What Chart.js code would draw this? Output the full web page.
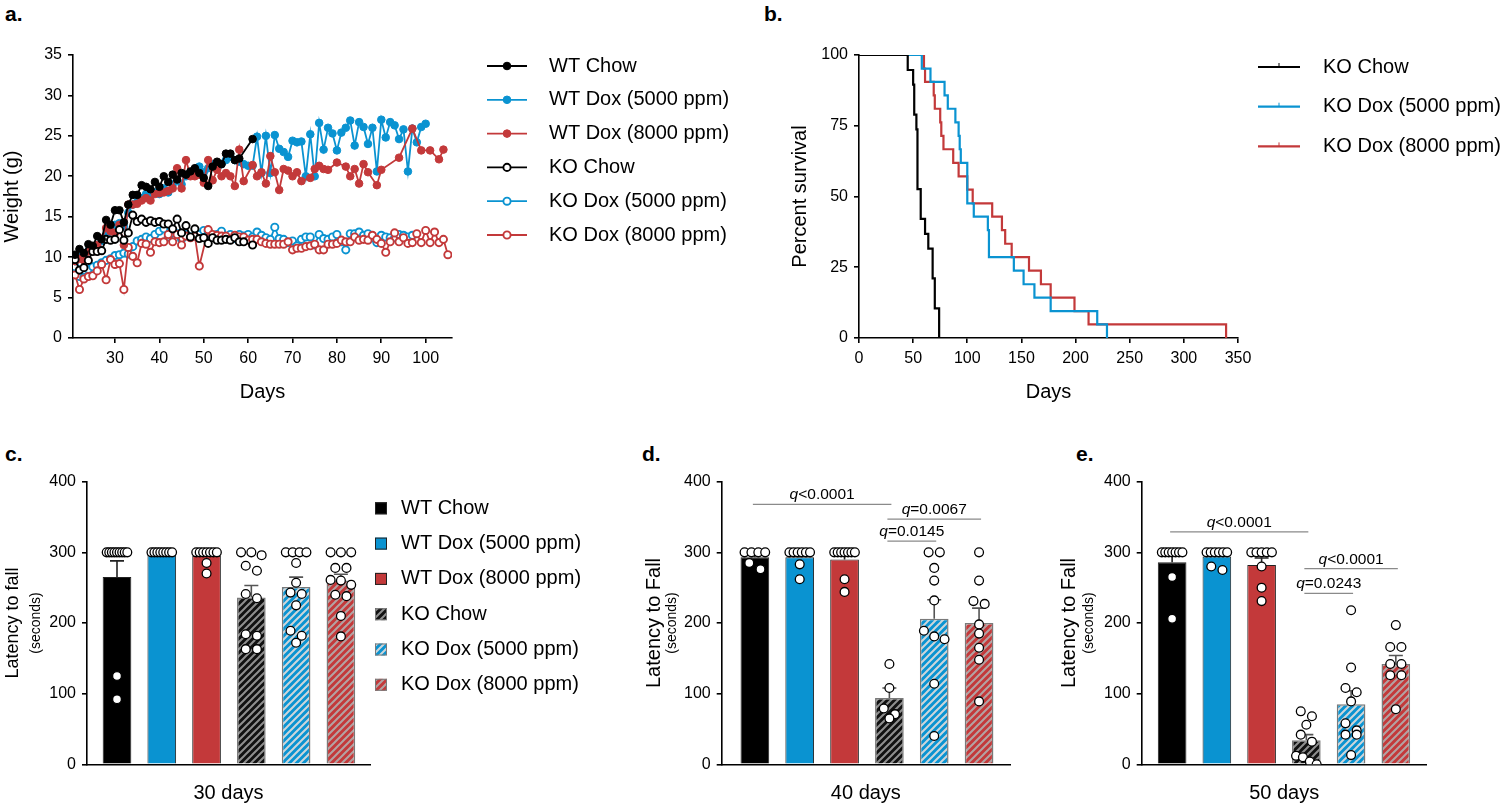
<!DOCTYPE html>
<html>
<head>
<meta charset="utf-8">
<script src="https://cdn.jsdelivr.net/npm/chart.js@4.4.0/dist/chart.umd.min.js"></script>
<style>
  body { margin: 0; background: #fff; width: 1500px; height: 805px; position: relative; overflow: hidden;
         font-family: "Liberation Sans", Arial, Helvetica, sans-serif; }
  canvas { position: absolute; }
  .tag { position: absolute; font-weight: bold; font-size: 21px; color: #000; }
</style>
</head>
<body>
<div class="tag" style="left:5px;top:2px">a.</div>
<div class="tag" style="left:764px;top:2px">b.</div>
<div class="tag" style="left:5px;top:442px">c.</div>
<div class="tag" style="left:642px;top:442px">d.</div>
<div class="tag" style="left:1076px;top:442px">e.</div>

<canvas id="chartA" width="760" height="420" style="left:0;top:0"></canvas>
<canvas id="chartB" width="715" height="420" style="left:785px;top:0"></canvas>
<canvas id="chartC" width="640" height="365" style="left:0;top:440px"></canvas>
<canvas id="chartD" width="420" height="365" style="left:640px;top:440px"></canvas>
<canvas id="chartE" width="445" height="365" style="left:1055px;top:440px"></canvas>

<script>
// ---- data ----
const groups = ['WT Chow', 'WT Dox (5000 ppm)', 'WT Dox (8000 ppm)', 'KO Chow', 'KO Dox (5000 ppm)', 'KO Dox (8000 ppm)'];

// a. body weight (g) per day
const days = [21,22,23,24,25,26,27,28,29,30,31,32,33,34,35,36,37,38,39,40,41,42,43,44,45,46,47,48,49,50,
  51,52,53,54,55,56,57,58,59,60,61,62,63,64,65,66,67,68,69,70,71,72,73,74,75,76,77,78,79,80,
  81,82,83,84,85,86,87,88,89,90,91,92,93,94,95,96,97,98,99,100,101,102,103,104,105];
const wtChow = [10.3,11.0,10.5,11.6,11.4,12.6,12.2,14.6,14.0,15.8,15.8,14.3,16.5,17.7,17.7,18.9,18.7,18.4,19.3,18.7,
  20.0,19.3,20.2,19.6,20.4,20.2,20.6,21.0,20.4,19.8,18.8,21.2,21.8,21.5,22.8,22.8,22.0,22.2,null,null,24.6];
const wtDox5 = [9.5,10.0,10.3,10.8,11.0,11.5,12.0,12.6,13.5,14.0,14.2,13.8,15.5,16.5,16.8,17.3,17.8,17.5,18.0,17.8,
  18.5,18.0,19.0,19.5,19.0,20.0,20.5,20.8,21.2,20.5,21.0,21.5,21.0,21.5,22.0,22.4,22.0,21.8,21.5,21.3,
  21.3,24.9,20.4,25.0,20.4,25.1,23.4,23.0,22.4,24.4,24.2,24.3,20.0,25.2,20.0,26.6,23.3,26.0,25.3,23.2,
  25.4,26.0,26.9,23.8,26.7,26.1,24.0,26.0,20.6,27.0,24.8,26.7,26.3,24.6,25.8,20.6,25.9,24.2,26.1,26.5];
const wtDox8 = [9.5,9.8,9.6,10.7,11.0,11.5,12.3,13.6,13.2,13.0,14.0,11.5,16.5,16.5,16.6,17.0,17.3,17.0,17.8,17.9,
  18.0,18.2,18.5,21.0,18.5,22.0,20.0,20.0,20.2,19.2,22.0,19.5,20.8,20.0,20.4,20.0,18.8,23.3,19.4,null,
  21.4,20.0,20.5,19.1,22.5,20.5,18.3,20.9,20.7,20.0,20.5,19.4,null,19.8,20.9,21.3,20.9,20.8,null,21.7,
  null,21.2,20.0,20.9,19.1,21.5,20.5,null,18.9,20.8,null,null,null,22.3,null,null,25.9,null,23.2,null,
  23.2,null,22.1,23.3];
const koChow = [9.7,8.4,8.7,9.6,10.7,10.7,10.8,12.2,12.1,12.2,13.4,12.1,13.0,15.2,14.4,14.7,14.3,14.5,14.3,14.4,
  14.1,14.1,13.5,14.7,13.0,13.9,12.5,13.5,12.3,12.4,11.7,12.4,12.1,12.1,12.2,12.1,12.4,11.9,11.9,null,11.5];
const koDox5 = [8.8,7.6,7.5,8.5,8.8,9.0,9.3,9.6,9.8,10.2,10.3,10.5,10.4,11.3,12.0,12.2,12.5,12.3,12.8,13.2,
  13.5,12.5,13.0,12.9,12.2,12.8,12.5,12.6,12.8,13.3,13.2,12.5,12.8,13.2,12.3,12.8,12.3,12.8,12.6,12.8,
  12.5,13.1,12.7,12.4,12.2,13.7,12.3,12.2,11.8,12.0,11.4,12.2,12.5,12.5,11.5,12.8,12.3,12.2,12.5,12.8,
  11.9,10.9,12.9,12.9,13.1,12.7,12.9,12.4,11.8,12.7,12.5,12.4,12.4,12.8,12.7,12.5,12.7];
const koDox8 = [7.8,6.0,7.3,7.6,7.7,8.3,9.1,7.2,9.7,9.1,9.2,6.0,11.2,10.1,9.3,11.7,11.6,10.6,11.9,11.8,
  11.9,12.8,11.9,12.8,11.5,12.6,12.4,12.6,8.9,null,13.4,12.8,12.7,12.6,12.6,12.2,12.7,12.5,12.5,12.1,
  12.2,12.2,11.9,11.7,11.6,11.6,11.6,11.6,11.9,10.9,11.1,11.1,11.3,11.4,11.6,10.9,10.9,11.6,11.6,11.7,
  12.1,11.9,11.9,12.5,12.1,12.2,12.1,12.7,12.2,11.7,10.6,11.9,13.0,11.9,12.4,11.7,11.8,12.9,11.8,13.3,
  11.8,13.1,11.8,12.2,10.3];

// b. Kaplan-Meier survival (day of step, percent surviving)
const kmChowDays = [0,45,50,51,53,54,57,61,64,68,70,74];
const kmChowSurv = [100,94.7,89.5,78.9,73.7,52.6,42.1,36.8,31.6,21.1,10.5,0];
const kmDox5Days = [0,58,66,79,82,89,92,93,94,100,106,119,120,143,152,162,177,220,229];
const kmDox5Surv = [100,95.2,90.5,85.7,81.0,76.2,71.4,66.7,61.9,47.6,42.9,38.1,28.6,23.8,19.0,14.3,9.5,4.8,0];
const kmDox8Days = [0,60,61,69,70,75,76,78,87,92,100,105,123,132,135,141,157,168,177,199,212,339];
const kmDox8Surv = [100,95.2,90.5,85.7,81.0,76.2,71.4,66.7,61.9,57.1,52.4,47.6,42.9,38.1,33.3,28.6,23.8,19.0,14.3,9.5,4.8,0];

// c. rotarod, 30 days
const mean30 = [265, 300, 295, 236, 251, 260];
const sem30 = [23, 0, 3, 17, 14, 9];
const pts30 = [
  [300,300,300,300,300,300,300,300,300,125,92],
  [300,300,300,300,300,300,300,300],
  [300,300,300,300,300,300,300,285,270],
  [300,300,296,281,274,241,235,184,182,163,163],
  [300,300,300,300,285,257,243,241,225,189,182,172],
  [300,300,300,278,278,261,260,254,240,238,210,181]
];
// d. 40 days
const mean40 = [293, 293, 290, 94, 206, 200];
const sem40 = [4, 6, 7, 14, 27, 21];
const pts40 = [
  [300,300,300,300,285,276],
  [300,300,300,300,300,300,283,262],
  [300,300,300,300,300,300,300,262,244],
  [142,108,79,71,65],
  [300,300,278,260,232,189,181,177,114,40],
  [300,260,231,227,198,185,165,148,89]
];
const sig40 = [[0, 3, 368, '<0.0001'], [3, 5, 347, '=0.0067'], [3, 4, 316, '=0.0145']];
// e. 50 days
const mean50 = [286, 294, 282, 34, 85, 142];
const sem50 = [10, 4, 10, 8, 19, 12];
const pts50 = [
  [300,300,300,300,300,300,300,265,206],
  [300,300,300,300,300,300,280,275],
  [300,300,300,300,300,280,250,231],
  [75,68,56,42,32,12,10,4,0],
  [218,137,108,102,89,58,48,42,42,13],
  [197,166,166,142,142,126,126,78]
];
const sig50 = [[0, 3, 329, '<0.0001'], [3, 5, 277, '<0.0001'], [3, 4, 242, '=0.0243']];

// ---- look ----
const FONT = '"Liberation Sans", Arial, Helvetica, sans-serif';
const BLACK = '#000000', BLUE = '#0a93d1', RED = '#c3393a';

Chart.defaults.font.family = FONT;
Chart.defaults.font.size = 16;
Chart.defaults.color = '#000';
Chart.defaults.plugins.legend.display = false;
Chart.defaults.plugins.tooltip.enabled = false;

// legend drawn at a fixed spot next to the plot
const sideLegend = {
  id: 'sideLegend',
  afterDraw(chart, args, o) {
    const ctx = chart.ctx;
    let y = o.y;
    ctx.save();
    chart.data.datasets.forEach(ds => {
      if (ds.inLegend === false) return;
      if (o.kind === 'box') {
        ctx.fillStyle = ds.backgroundColor;
        ctx.fillRect(o.x, y - 6, 12, 12);
        ctx.strokeStyle = ds.borderColor;
        ctx.lineWidth = 1;
        ctx.strokeRect(o.x + 0.5, y - 5.5, 11, 11);
      } else {
        ctx.strokeStyle = ds.borderColor;
        ctx.lineWidth = ds.borderWidth;
        ctx.beginPath();
        ctx.moveTo(o.x, y);
        ctx.lineTo(o.x + o.len, y);
        ctx.stroke();
        const mid = o.x + o.len / 2;
        if (o.kind === 'marker') {
          ctx.beginPath();
          ctx.arc(mid, y, ds.pointRadius, 0, Math.PI * 2);
          ctx.fillStyle = ds.pointBackgroundColor;
          ctx.fill();
          ctx.lineWidth = ds.pointBorderWidth;
          ctx.strokeStyle = ds.pointBorderColor;
          ctx.stroke();
        } else {
          // censor tick
          ctx.lineWidth = 1;
          ctx.beginPath();
          ctx.moveTo(mid, y - 4);
          ctx.lineTo(mid, y);
          ctx.stroke();
        }
      }
      ctx.fillStyle = '#000';
      ctx.font = '20px ' + FONT;
      ctx.textBaseline = 'middle';
      ctx.textAlign = 'left';
      ctx.fillText(ds.label, o.textX, y);
      y += o.step;
    });
    ctx.restore();
  }
};

// second, smaller line of the y title
const subTitle = {
  id: 'subTitle',
  afterDraw(chart, args, o) {
    const ctx = chart.ctx, a = chart.chartArea;
    ctx.save();
    ctx.translate(o.x, (a.top + a.bottom) / 2);
    ctx.rotate(-Math.PI / 2);
    ctx.font = '14px ' + FONT;
    ctx.fillStyle = '#000';
    ctx.textAlign = 'center';
    ctx.textBaseline = 'middle';
    ctx.fillText(o.text, 0, 0);
    ctx.restore();
  }
};

// mean + SEM whisker on each bar
const errorBars = {
  id: 'errorBars',
  afterDatasetDraw(chart, args, o) {
    if (args.meta.type !== 'bar') return;
    const sem = o.sems[args.index];
    if (!sem) return;
    const bar = args.meta.data[0];
    const mean = chart.data.datasets[args.index].data[0].y;
    const top = chart.scales.y.getPixelForValue(mean + sem);
    const ctx = chart.ctx;
    ctx.save();
    ctx.strokeStyle = args.index < 3 ? '#222' : '#555';
    ctx.lineWidth = 1.6;
    ctx.beginPath();
    ctx.moveTo(bar.x, bar.y);
    ctx.lineTo(bar.x, top);
    ctx.moveTo(bar.x - 7, top);
    ctx.lineTo(bar.x + 7, top);
    ctx.stroke();
    ctx.restore();
  }
};

// q-value brackets
const sigBars = {
  id: 'sigBars',
  afterDatasetsDraw(chart, args, o) {
    if (!o.pairs) return;
    const ctx = chart.ctx, xs = chart.scales.x, ys = chart.scales.y;
    ctx.save();
    o.pairs.forEach(p => {
      const x1 = xs.getPixelForValue(p[0]) - 2;
      const x2 = xs.getPixelForValue(p[1]) + 2;
      const yy = ys.getPixelForValue(p[2]);
      ctx.strokeStyle = '#8a8a8a';
      ctx.lineWidth = 1.2;
      ctx.beginPath();
      ctx.moveTo(x1, yy);
      ctx.lineTo(x2, yy);
      ctx.stroke();
      ctx.font = 'italic 15.5px ' + FONT;
      const wq = ctx.measureText('q').width;
      ctx.font = '15.5px ' + FONT;
      const wr = ctx.measureText(p[3]).width;
      const start = (x1 + x2) / 2 - (wq + wr) / 2;
      ctx.fillStyle = '#000';
      ctx.textBaseline = 'alphabetic';
      ctx.textAlign = 'left';
      ctx.font = 'italic 15.5px ' + FONT;
      ctx.fillText('q', start, yy - 5);
      ctx.font = '15.5px ' + FONT;
      ctx.fillText(p[3], start + wq, yy - 5);
    });
    ctx.restore();
  }
};

function axisGrid(ticks) {
  return {
    display: true, drawOnChartArea: false, drawTicks: ticks,
    tickLength: 5, color: '#000', lineWidth: 1.6
  };
}
const axisBorder = { display: true, color: '#000', width: 1.6 };

// ---- a. weight curves ----
function series(vals) {
  return vals.map((v, i) => ({ x: days[i], y: v }));
}
function weightSet(label, vals, color, open, order) {
  return {
    label: label, data: series(vals), order: order,
    borderColor: color, backgroundColor: color, borderWidth: 1.8,
    pointRadius: open ? 3.6 : 3.8, pointBorderWidth: open ? 1.9 : 1,
    pointBackgroundColor: open ? '#fff' : color, pointBorderColor: color,
    spanGaps: true
  };
}

new Chart(document.getElementById('chartA'), {
  type: 'line',
  data: {
    datasets: [
      weightSet(groups[0], wtChow, BLACK, false, 0),
      weightSet(groups[1], wtDox5, BLUE, false, 3),
      weightSet(groups[2], wtDox8, RED, false, 2),
      weightSet(groups[3], koChow, BLACK, true, 1),
      weightSet(groups[4], koDox5, BLUE, true, 5),
      weightSet(groups[5], koDox8, RED, true, 4)
    ]
  },
  options: {
    responsive: false, animation: false,
    layout: { padding: { top: 55, right: 308, bottom: 12, left: 0 } },
    scales: {
      x: {
        type: 'linear', min: 20.54, max: 105.93,
        ticks: { stepSize: 10, includeBounds: false, padding: 6 },
        grid: axisGrid(true), border: axisBorder,
        title: { display: true, text: 'Days', font: { size: 20 }, padding: { top: 0, bottom: 4 } },
        afterFit(s) { s.height = 70; }
      },
      y: {
        min: 0, max: 35,
        ticks: { stepSize: 5, padding: 6 },
        grid: axisGrid(true), border: axisBorder,
        title: { display: true, text: 'Weight (g)', font: { size: 20 }, padding: { top: 0, bottom: 0 } },
        afterFit(s) { s.width = 73; }
      }
    },
    plugins: {
      sideLegend: { kind: 'marker', x: 487, len: 40, textX: 549, y: 66, step: 33.8 }
    }
  },
  plugins: [sideLegend]
});

// ---- b. survival ----
function kmSet(label, dayList, surv, color) {
  return {
    label: label, data: dayList.map((d, i) => ({ x: d, y: surv[i] })),
    borderColor: color, backgroundColor: color, borderWidth: 2.2,
    pointRadius: 0, stepped: 'before'
  };
}

new Chart(document.getElementById('chartB'), {
  type: 'line',
  data: {
    datasets: [
      kmSet(groups[3], kmChowDays, kmChowSurv, BLACK),
      kmSet(groups[4], kmDox5Days, kmDox5Surv, BLUE),
      kmSet(groups[5], kmDox8Days, kmDox8Surv, RED)
    ]
  },
  options: {
    responsive: false, animation: false,
    layout: { padding: { top: 55, right: 262, bottom: 12, left: 0 } },
    scales: {
      x: {
        type: 'linear', min: 0, max: 350,
        ticks: { stepSize: 50, padding: 6 },
        grid: axisGrid(true), border: axisBorder,
        title: { display: true, text: 'Days', font: { size: 20 }, padding: { top: 0, bottom: 4 } },
        afterFit(s) { s.height = 70; }
      },
      y: {
        min: 0, max: 100,
        ticks: { stepSize: 25, padding: 6 },
        grid: axisGrid(true), border: axisBorder,
        title: { display: true, text: 'Percent survival', font: { size: 20 }, padding: { top: 3, bottom: 0 } },
        afterFit(s) { s.width = 74; }
      }
    },
    plugins: {
      sideLegend: { kind: 'km', x: 473, len: 42, textX: 538, y: 67, step: 39.7 }
    }
  },
  plugins: [sideLegend]
});

// ---- c-e. latency to fall ----
function hatch(canvas, base, stripe) {
  const tile = document.createElement('canvas');
  tile.width = 7; tile.height = 7;
  const g = tile.getContext('2d');
  g.fillStyle = base;
  g.fillRect(0, 0, 7, 7);
  g.strokeStyle = stripe;
  g.lineWidth = 2;
  g.beginPath();
  g.moveTo(-1, 8); g.lineTo(8, -1);
  g.moveTo(-4.5, 4.5); g.lineTo(4.5, -4.5);
  g.moveTo(2.5, 11.5); g.lineTo(11.5, 2.5);
  g.stroke();
  return canvas.getContext('2d').createPattern(tile, 'repeat');
}

// spread dots that sit at about the same value side by side
function swarm(values, center) {
  const sorted = values.slice().sort((a, b) => b - a);
  const rows = [];
  sorted.forEach(v => {
    const row = rows[rows.length - 1];
    if (row && row[0] - v <= 12) row.push(v);
    else rows.push([v]);
  });
  const out = [];
  rows.forEach(row => {
    const n = row.length;
    const step = n > 1 ? Math.min(0.25, 0.46 / (n - 1)) : 0;
    row.forEach((v, k) => out.push({ x: center + (k - (n - 1) / 2) * step, y: v }));
  });
  return out;
}

function rotarod(id, means, sems, dots, opt) {
  const canvas = document.getElementById(id);
  const fills = [BLACK, BLUE, RED,
    hatch(canvas, '#111111', '#8f8f8f'),
    hatch(canvas, BLUE, '#cdd6da'),
    hatch(canvas, RED, '#b3a3a3')];
  const datasets = means.map((m, i) => ({
    type: 'bar', label: groups[i], data: [{ x: i, y: m }], order: 1,
    backgroundColor: fills[i], borderColor: i < 3 ? '#222' : '#7a7a7a',
    borderWidth: i < 3 ? 1 : 1.5, grouped: false,
    barPercentage: 0.64, categoryPercentage: 1
  }));
  let all = [];
  dots.forEach((vals, i) => { all = all.concat(swarm(vals, i)); });
  datasets.push({
    type: 'scatter', label: 'animals', data: all, order: 0, inLegend: false,
    pointRadius: 4.4, pointBackgroundColor: '#fff', pointBorderColor: '#000', pointBorderWidth: 1.3
  });
  const plugins = { errorBars: { sems: sems }, subTitle: { x: opt.subX, text: '(seconds)' }, sigBars: { pairs: opt.sig } };
  const used = [errorBars, subTitle, sigBars];
  if (opt.legend) {
    plugins.sideLegend = opt.legend;
    used.push(sideLegend);
  }
  return new Chart(canvas, {
    type: 'bar',
    data: { datasets: datasets },
    options: {
      responsive: false, animation: false,
      layout: { padding: { top: 41.7, right: opt.right, bottom: 0, left: 0 } },
      scales: {
        x: {
          type: 'linear', min: opt.xmin, max: opt.xmax, offset: false,
          ticks: { display: false, stepSize: 1, includeBounds: false },
          grid: { display: false }, border: axisBorder,
          title: { display: true, text: opt.xTitle, font: { size: 20 }, padding: { top: 0, bottom: 0 } },
          afterFit(s) { s.height = 40.7; }
        },
        y: {
          min: 0, max: 400,
          ticks: { stepSize: 100, padding: 6 },
          grid: axisGrid(true), border: axisBorder,
          title: { display: true, text: opt.yTitle, font: { size: opt.yTitleSize }, padding: { top: 2, bottom: 0 } },
          afterFit(s) { s.width = opt.yWidth; }
        }
      },
      plugins: plugins
    },
    plugins: used
  });
}

rotarod('chartC', mean30, sem30, pts30, {
  xmin: -0.67, xmax: 5.65, right: 270, yWidth: 87, subX: 36,
  xTitle: '30 days', yTitle: 'Latency to fall', yTitleSize: 18, sig: null,
  legend: { kind: 'box', x: 375, textX: 401, y: 68.3, step: 35.3 }
});
rotarod('chartD', mean40, sem40, pts40, {
  xmin: -0.74, xmax: 5.69, right: 50, yWidth: 81.7, subX: 32.5,
  xTitle: '40 days', yTitle: 'Latency to Fall', yTitleSize: 20, sig: sig40
});
rotarod('chartE', mean50, sem50, pts50, {
  xmin: -0.68, xmax: 5.69, right: 73.3, yWidth: 86.7, subX: 34,
  xTitle: '50 days', yTitle: 'Latency to Fall', yTitleSize: 20, sig: sig50
});
</script>
</body>
</html>
